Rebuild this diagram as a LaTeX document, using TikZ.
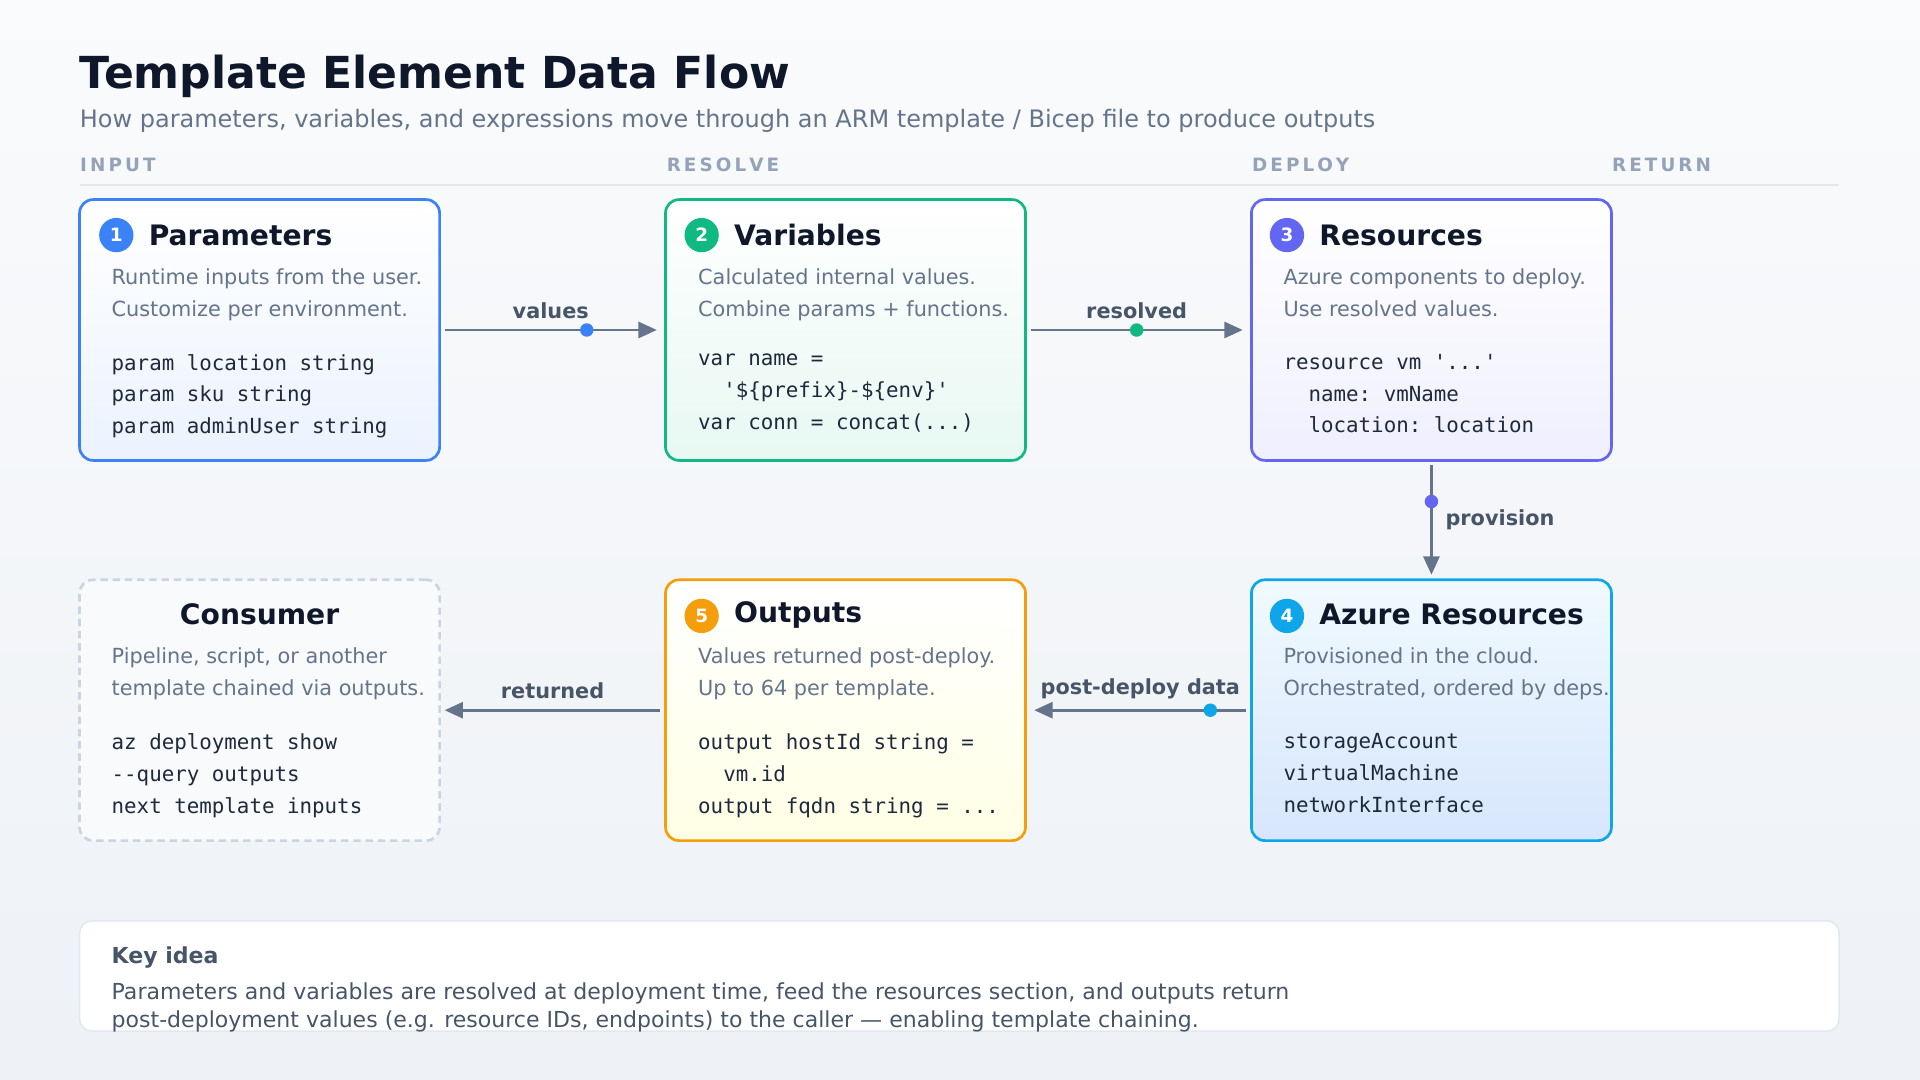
\documentclass[tikz,border=0pt]{standalone}
\usepackage{fontspec}
\setmainfont{DejaVu Sans}
\setmonofont{DejaVu Sans Mono}
\usetikzlibrary{arrows.meta, positioning}

\definecolor{ink}{HTML}{0F172A}
\definecolor{muted}{HTML}{64748B}
\definecolor{faint}{HTML}{94A3B8}
\definecolor{rule}{HTML}{E2E8F0}
\definecolor{lbl}{HTML}{475569}
\definecolor{code}{HTML}{1E293B}
\definecolor{cblue}{HTML}{3B82F6}
\definecolor{cgreen}{HTML}{10B981}
\definecolor{cpurple}{HTML}{6366F1}
\definecolor{csky}{HTML}{0EA5E9}
\definecolor{camber}{HTML}{F59E0B}
\definecolor{cgray}{HTML}{CBD5E1}

\tikzset{
  box/.style={draw=#1, line width=2.2pt, rounded corners=11pt, minimum width=294pt, minimum height=213pt, inner sep=0pt},
  badge/.style={circle, fill=#1, minimum size=28pt, inner sep=0pt, text=white, font=\fontsize{15}{15}\selectfont\bfseries},
  btitle/.style={anchor=west, text=ink, font=\fontsize{23}{23}\selectfont\bfseries},
  desc/.style={anchor=north west, align=left, text=muted, inner sep=0pt, font=\fontsize{17}{26}\selectfont},
  mono/.style={anchor=north west, align=left, text=code, inner sep=0pt, font=\fontsize{17}{26}\selectfont\ttfamily},
  flow/.style={draw=muted, line width=2.4pt, -{Triangle[length=15pt, width=13pt]}},
  flowlbl/.style={text=lbl, font=\fontsize{17}{17}\selectfont\bfseries},
  dot/.style={circle, fill=#1, minimum size=11pt, inner sep=0pt},
  colhead/.style={anchor=west, text=faint, font=\fontsize{15}{15}\selectfont\bfseries}
}

\begin{document}
\begin{tikzpicture}[x=1pt, y=-1pt]
  \useasboundingbox (0,0) rectangle (1568,882);
  \shade [top color=white!40!rule!30, bottom color=rule!60] (0,0) rectangle (1568,882);

  % header
  \node [anchor=base west, inner sep=0pt, text=ink, font=\fontsize{36}{36}\selectfont\bfseries] (title) at (65,72) {Template Element Data Flow};
  \node [anchor=base west, inner sep=0pt, text=muted, font=\fontsize{19.6}{19.6}\selectfont] (sub) at (65,104) {How parameters, variables, and expressions move through an ARM template / Bicep file to produce outputs};
  \node [colhead] (hin) at (62,135) {I\,N\,P\,U\,T};
  \node [colhead] (hres) at (541,135) {R\,E\,S\,O\,L\,V\,E};
  \node [colhead] (hdep) at (1019,135) {D\,E\,P\,L\,O\,Y};
  \node [colhead] (hret) at (1313,135) {R\,E\,T\,U\,R\,N};
  \draw [rule, line width=1.2pt] (65,151) -- (1502,151);

  % boxes
  \node [box=cblue, top color=white, bottom color=cblue!10] (par) at (212,269.5) {};
  \node [box=cgreen, top color=white, bottom color=cgreen!10] (var) at (690.5,269.5) {};
  \node [box=cpurple, top color=white, bottom color=cpurple!10] (res) at (1169,269.5) {};
  \node [box=csky, top color=csky!6, bottom color=cblue!20] (azr) at (1169,580) {};
  \node [box=camber, top color=white, bottom color=yellow!10] (out) at (690.5,580) {};
  \node [box=cgray, dashed, dash pattern=on 6pt off 4pt, fill=white!50!rule!40] (con) at (212,580) {};

  % box contents
  \node [badge=cblue] (b1) at (95,192) {1};
  \node [btitle] (t1) at (118,192) {Parameters};
  \node [desc] (d1) at (91,219) {Runtime inputs from the user.\\Customize per environment.};
  \node [mono] (m1) at (91,289) {param location string\\param sku string\\param adminUser string};

  \node [badge=cgreen] (b2) at (573,192) {2};
  \node [btitle] (t2) at (596,192) {Variables};
  \node [desc] (d2) at (570,219) {Calculated internal values.\\Combine params + functions.};
  \node [mono] (m2) at (570,289) {var name =\\\ \ '\$\{prefix\}-\$\{env\}'\\var conn = concat(...)};

  \node [badge=cpurple] (b3) at (1051,192) {3};
  \node [btitle] (t3) at (1074,192) {Resources};
  \node [desc] (d3) at (1048,219) {Azure components to deploy.\\Use resolved values.};
  \node [mono] (m3) at (1048,289) {resource vm '...'\\\ \ name: vmName\\\ \ location: location};

  \node [badge=csky] (b4) at (1051,503) {4};
  \node [btitle] (t4) at (1074,502) {Azure Resources};
  \node [desc] (d4) at (1048,529) {Provisioned in the cloud.\\Orchestrated, ordered by deps.};
  \node [mono] (m4) at (1048,599) {storageAccount\\virtualMachine\\networkInterface};

  \node [badge=camber] (b5) at (573,503) {5};
  \node [btitle] (t5) at (596,502) {Outputs};
  \node [desc] (d5) at (570,529) {Values returned post-deploy.\\Up to 64 per template.};
  \node [mono] (m5) at (570,599) {output hostId string =\\\ \ vm.id\\output fqdn string = ...};

  \node [btitle, anchor=center] (t6) at (212,502) {Consumer};
  \node [desc] (d6) at (91,529) {Pipeline, script, or another\\template chained via outputs.};
  \node [mono] (m6) at (91,599) {az deployment show\\--query outputs\\next template inputs};

  % connectors
  \draw [flow] ([xshift=3pt]par.east) -- ([xshift=-6pt]var.west) node [dot=cblue, pos=0.67] (v1) {} node [flowlbl, midway, above=5pt] (l1) {values};
  \draw [flow] ([xshift=3pt]var.east) -- ([xshift=-6pt]res.west) node [dot=cgreen, midway] (v2) {} node [flowlbl, midway, above=5pt] (l2) {resolved};
  \draw [flow] ([yshift=-3pt]res.south) -- ([yshift=3pt]azr.north) node [dot=cpurple, pos=0.33] (v3) {} node [flowlbl, pos=0.5, right=7pt] (l3) {provision};
  \draw [flow] ([xshift=-3pt]azr.west) -- ([xshift=6pt]out.east) node [dot=csky, pos=0.17] (v4) {} node [flowlbl, midway, above=5pt] (l4) {post-deploy data};
  \draw [flow] ([xshift=-3pt]out.west) -- ([xshift=3pt]con.east) node [flowlbl, midway, above=5pt] (l5) {returned};

  % key idea
  \node [draw=rule, line width=1.2pt, fill=white, rounded corners=10pt, minimum width=1437pt, minimum height=90pt, inner sep=0pt] (key) at (783.5,797) {};
  \node [anchor=base west, inner sep=0pt, text=lbl, font=\fontsize{18}{18}\selectfont\bfseries] (kt) at (91,787) {Key idea};
  \node [anchor=north west, align=left, inner sep=0pt, text=lbl, font=\fontsize{18}{23}\selectfont] (kx) at (91,802) {Parameters and variables are resolved at deployment time, feed the resources section, and outputs return\\post-deployment values (e.g. resource IDs, endpoints) to the caller — enabling template chaining.};
\end{tikzpicture}
\end{document}
